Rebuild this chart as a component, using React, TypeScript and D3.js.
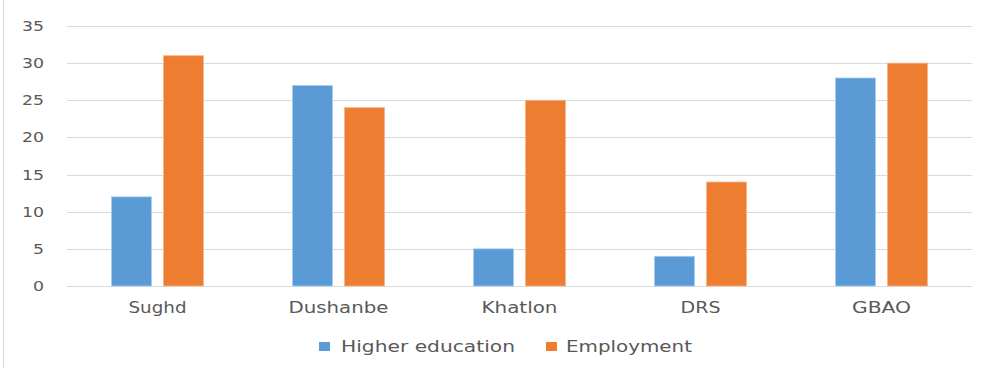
import React from "react";
import * as d3 from "d3";

const categories = ["Sughd", "Dushanbe", "Khatlon", "DRS", "GBAO"];
const series = ["Higher education", "Employment"];
const higherEducation = [12, 27, 5, 4, 28];
const employment = [31, 24, 25, 14, 30];
const yTicks = [0, 5, 10, 15, 20, 25, 30, 35];
const colors = ["#5B9BD5", "#ED7D31"];

const W = 999;
const H = 373;
const plotLeft = 67;
const plotRight = 972;
const plotTop = 26;
const plotBottom = 286;
const font = "'DejaVu Sans', Verdana, sans-serif";
const textColor = "#595959";

const catWidths: Record<string, number> = { Sughd: 58, Dushanbe: 100, Khatlon: 76, DRS: 40, GBAO: 59 };

export default function App() {
  const x = d3.scaleBand<string>().domain(categories).range([plotLeft, plotRight]).padding(0);
  const groupW = 92;
  const inner = d3.scaleBand<string>().domain(series).range([0, groupW]).paddingInner(0.2308).paddingOuter(0);
  const y = d3.scaleLinear().domain([0, 35]).range([plotBottom, plotTop]);
  const values = [higherEducation, employment];

  return (
    <svg
      width={W}
      height={H}
      style={{ position: "absolute", left: 0, top: 0, background: "#fff" }}
    >
      <rect x={0} y={0} width={W} height={H} fill="#fff" />
      <line x1={3.5} x2={3.5} y1={0} y2={368} stroke="#d9d9d9" strokeWidth={1} />
      {yTicks.map((t) => (
        <g key={t}>
          <line x1={plotLeft} x2={plotRight} y1={Math.round(y(t)) + 0.5} y2={Math.round(y(t)) + 0.5} stroke="#d9d9d9" strokeWidth={1} />
          <text
            x={44}
            y={y(t)}
            textAnchor="end"
            dominantBaseline="central"
            fontFamily={font}
            fontSize={14}
            fill={textColor}
            textLength={t < 10 ? 11 : 22}
            lengthAdjust="spacingAndGlyphs"
          >
            {t}
          </text>
        </g>
      ))}
      {categories.map((c, i) => {
        const gx = (x(c) as number) + (x.bandwidth() - groupW) / 2;
        return (
          <g key={c}>
            {series.map((s, j) => (
              <rect
                key={s}
                x={gx + (inner(s) as number)}
                y={y(values[j][i])}
                width={inner.bandwidth()}
                height={y(0) - y(values[j][i])}
                fill={colors[j]}
                stroke={j === 0 ? "#a9cdee" : "#f5b38a"}
                strokeWidth={0.8}
              />
            ))}
            <text
              x={(x(c) as number) + x.bandwidth() / 2}
              y={308}
              textAnchor="middle"
              dominantBaseline="central"
              fontFamily={font}
              fontSize={15}
              fill={textColor}
              textLength={catWidths[c]}
              lengthAdjust="spacingAndGlyphs"
            >
              {c}
            </text>
          </g>
        );
      })}
      <g>
        <rect x={319} y={342} width={11} height={9} fill={colors[0]} />
        <text x={341} y={347} dominantBaseline="central" fontFamily={font} fontSize={15} fill={textColor} textLength={174} lengthAdjust="spacingAndGlyphs">
          {series[0]}
        </text>
        <rect x={546} y={342} width={11} height={9} fill={colors[1]} />
        <text x={566} y={347} dominantBaseline="central" fontFamily={font} fontSize={15} fill={textColor} textLength={126} lengthAdjust="spacingAndGlyphs">
          {series[1]}
        </text>
      </g>
    </svg>
  );
}
